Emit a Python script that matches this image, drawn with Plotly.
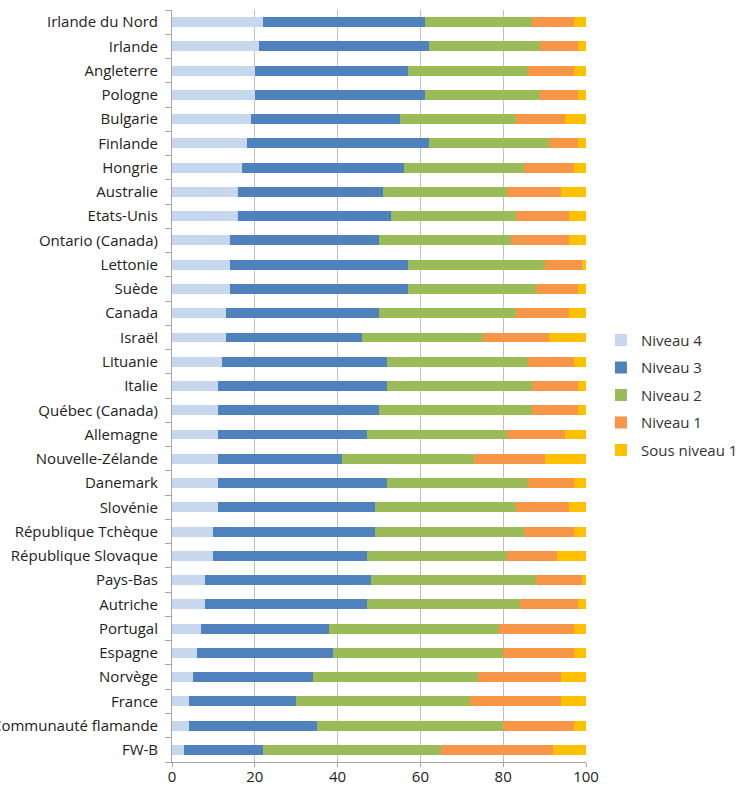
import plotly.graph_objects as go

countries = ["Irlande du Nord", "Irlande", "Angleterre", "Pologne", "Bulgarie", "Finlande",
             "Hongrie", "Australie", "Etats-Unis", "Ontario (Canada)", "Lettonie", "Suède",
             "Canada", "Israël", "Lituanie", "Italie", "Québec (Canada)", "Allemagne",
             "Nouvelle-Zélande", "Danemark", "Slovénie", "République Tchèque",
             "République Slovaque", "Pays-Bas", "Autriche", "Portugal", "Espagne", "Norvège",
             "France", "Communauté flamande", "FW-B"]

niveau4 = [22, 21, 20, 20, 19, 18, 17, 16, 16, 14, 14, 14, 13, 13, 12, 11, 11, 11, 11, 11,
           11, 10, 10, 8, 8, 7, 6, 5, 4, 4, 3]
niveau3 = [39, 41, 37, 41, 36, 44, 39, 35, 37, 36, 43, 43, 37, 33, 40, 41, 39, 36, 30, 41,
           38, 39, 37, 40, 39, 31, 33, 29, 26, 31, 19]
niveau2 = [26, 27, 29, 28, 28, 29, 29, 30, 30, 32, 33, 31, 33, 29, 34, 35, 37, 34, 32, 34,
           34, 36, 34, 40, 37, 41, 41, 40, 42, 45, 43]
niveau1 = [10, 9, 11, 9, 12, 7, 12, 13, 13, 14, 9, 10, 13, 16, 11, 11, 11, 14, 17, 11,
           13, 12, 12, 11, 14, 18, 17, 20, 22, 17, 27]
sous1 = [3, 2, 3, 2, 5, 2, 3, 6, 4, 4, 1, 2, 4, 9, 3, 2, 2, 5, 10, 3,
         4, 3, 7, 1, 2, 3, 3, 6, 6, 3, 8]

series = [("Niveau 4", niveau4, "#C6D7EE"),
          ("Niveau 3", niveau3, "#4F81BD"),
          ("Niveau 2", niveau2, "#9BBB59"),
          ("Niveau 1", niveau1, "#F79646"),
          ("Sous niveau 1", sous1, "#FFC000")]

x_ticks = [0, 20, 40, 60, 80, 100]

fig = go.Figure()
for name, vals, col in series:
    fig.add_trace(go.Bar(y=countries, x=vals, name=name, orientation="h",
                         marker=dict(color=col, line=dict(width=0)),
                         legendgroup=name))

fig.update_layout(
    width=754, height=786,
    barmode="stack", bargap=0.59,
    plot_bgcolor="white", paper_bgcolor="white",
    margin=dict(l=172, r=168, t=10, b=24),
    font=dict(family="Open Sans, Liberation Sans, sans-serif", size=15, color="#222222"),
    legend=dict(xref="container", yref="container", x=0.797, y=0.588,
                xanchor="left", yanchor="top",
                traceorder="grouped", tracegroupgap=5,
                font=dict(size=15, color="#333333"), bgcolor="rgba(0,0,0,0)"),
)
fig.update_xaxes(range=[0, 100], tickvals=x_ticks, showgrid=True, gridcolor="#BFBFBF",
                 gridwidth=1, zeroline=False, showline=True, linecolor="#A6A6A6",
                 ticks="outside", ticklen=4, tickcolor="#A6A6A6", ticklabelstandoff=-3,
                 tickfont=dict(size=15), automargin=False)
fig.update_yaxes(categoryorder="array", categoryarray=countries[::-1],
                 showline=True, linecolor="#A6A6A6", linewidth=1,
                 ticks="outside", tickson="boundaries", ticklen=6, tickcolor="#A6A6A6",
                 ticklabelstandoff=10,
                 showgrid=False, automargin=False, tickfont=dict(size=15))

fig.write_html("out.html")
